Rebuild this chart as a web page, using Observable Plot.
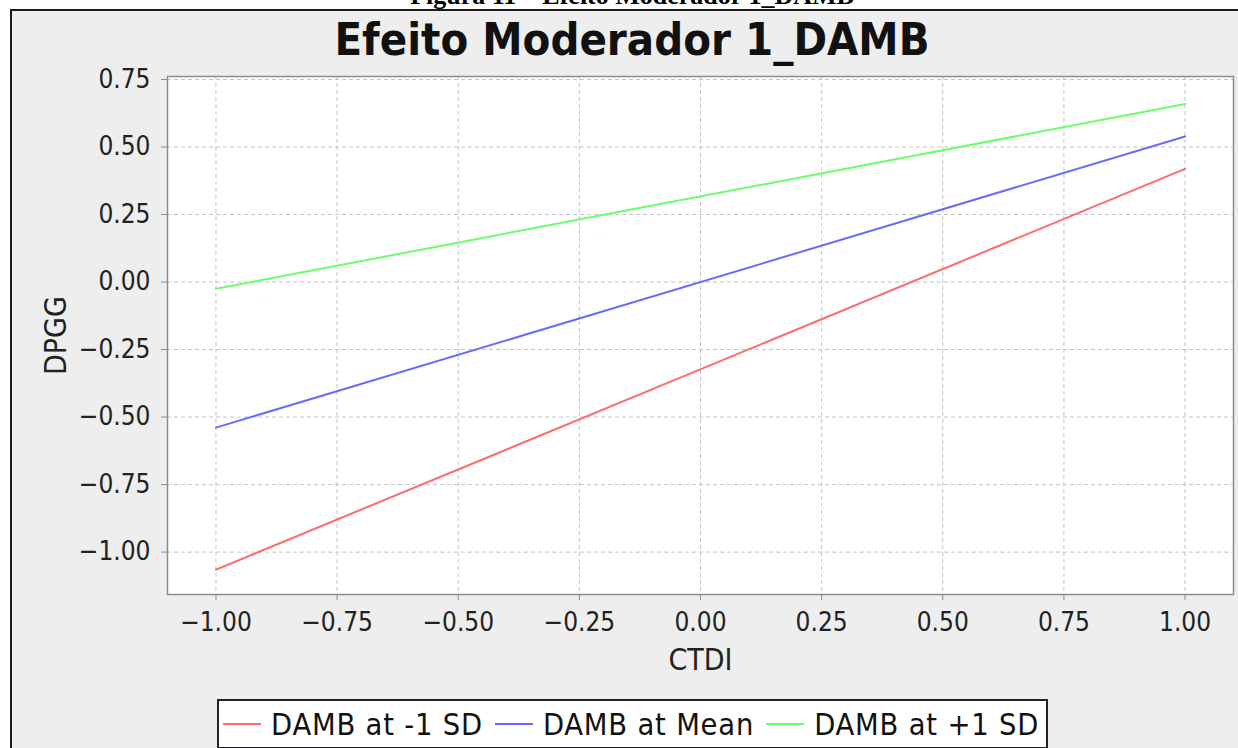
<!DOCTYPE html>
<html>
<head>
<meta charset="utf-8">
<script src="https://cdn.jsdelivr.net/npm/d3@7"></script>
<script src="https://cdn.jsdelivr.net/npm/@observablehq/plot@0.6"></script>
<style>
  html, body { margin: 0; padding: 0; background: #fff; width: 1238px; height: 748px; overflow: hidden; }
  #caption { position: absolute; left: 0; width: 1264px; top: -17px; text-align: center;
    font-family: "Liberation Serif", serif; font-weight: bold; font-size: 26px; line-height: 26px; color: #000; }
  #panel { position: absolute; left: 10px; top: 9px; right: 0; bottom: 0; background: #eeeeee;
    border-top: 2px solid #1a1a1a; border-left: 2px solid #1a1a1a; }
  #title { position: absolute; left: 0; width: 1264px; top: 17px; text-align: center;
    font-family: "DejaVu Sans Condensed", "DejaVu Sans", sans-serif; font-weight: bold; font-size: 45px; line-height: 46px; color: #111; }
  #chart { position: absolute; left: 0; top: 0; }
  #legend { position: absolute; left: 217px; top: 699px; width: 831px; height: 50px; box-sizing: border-box;
    border: 2px solid #222; background: #fff; display: flex; align-items: center; padding-left: 4px; overflow: hidden;
    font-family: "DejaVu Sans Condensed", "DejaVu Sans", sans-serif; font-size: 30.5px; letter-spacing: 0.8px; color: #111; white-space: nowrap; }
  .sw { flex: none; width: 38px; height: 2px; margin-right: 10px; }
  .it { flex: none; margin-right: 12px; }
</style>
</head>
<body>
<div id="caption">Figura 11 – Efeito Moderador 1_DAMB</div>
<div id="panel"></div>
<div id="title">Efeito Moderador 1_DAMB</div>
<div id="chart"></div>
<div id="legend"></div>
<script>
// Data
const ctdi = [-1, 1];
const dambLow = [-1.065, 0.419];   // DAMB at -1 SD
const dambMean = [-0.539, 0.539];  // DAMB at Mean
const dambHigh = [-0.025, 0.659];  // DAMB at +1 SD
const seriesNames = ["DAMB at -1 SD", "DAMB at Mean", "DAMB at +1 SD"];
const seriesColors = ["#ff6a6a", "#6a6aff", "#6aff6a"];
const xTicks = [-1, -0.75, -0.5, -0.25, 0, 0.25, 0.5, 0.75, 1];
const yTicks = [-1, -0.75, -0.5, -0.25, 0, 0.25, 0.5, 0.75];
const xLabel = "CTDI";
const yLabel = "DPGG";

const seriesValues = [dambLow, dambMean, dambHigh];
const rows = [];
seriesNames.forEach((name, i) => {
  ctdi.forEach((x, j) => rows.push({series: name, x, y: seriesValues[i][j]}));
});

const fmt = d3.format(".2f");
const font = "'DejaVu Sans Condensed', 'DejaVu Sans', sans-serif";

const chart = Plot.plot({
  width: 1238,
  height: 680,
  marginLeft: 167,
  marginRight: 5,
  marginTop: 76,
  marginBottom: 86,
  style: {background: "transparent", fontFamily: font, color: "#222", overflow: "visible"},
  x: {domain: [-1.1, 1.1]},
  y: {domain: [-1.157, 0.761]},
  color: {domain: seriesNames, range: seriesColors},
  marks: [
    Plot.frame({fill: "white", stroke: null}),
    Plot.gridX(xTicks, {stroke: "#c4c4c4", strokeOpacity: 1, strokeDasharray: "4,3"}),
    Plot.gridY(yTicks, {stroke: "#c4c4c4", strokeOpacity: 1, strokeDasharray: "4,3"}),
    Plot.line(rows, {x: "x", y: "y", z: "series", stroke: "series", strokeWidth: 2}),
    Plot.frame({stroke: "#8c8c8c", strokeWidth: 1.5}),
    Plot.axisX(xTicks, {tickFormat: fmt, tickSize: 6, tickPadding: 12, fontSize: 26, color: "#222", stroke: "#8c8c8c", label: null}),
    Plot.axisY(yTicks, {tickFormat: fmt, tickSize: 6, tickPadding: 11, fontSize: 26, color: "#222", stroke: "#8c8c8c", label: null}),
    Plot.text([xLabel], {text: d => d, frameAnchor: "bottom", textAnchor: "middle", lineAnchor: "middle", dy: 66, fontSize: 30, fill: "#222"}),
    Plot.text([yLabel], {text: d => d, frameAnchor: "left", textAnchor: "middle", lineAnchor: "middle", dx: -111, rotate: -90, fontSize: 30, fill: "#222"})
  ]
});
document.getElementById("chart").appendChild(chart);

const legend = document.getElementById("legend");
seriesNames.forEach((name, i) => {
  const sw = document.createElement("span");
  sw.className = "sw";
  sw.style.background = seriesColors[i];
  legend.appendChild(sw);
  const t = document.createElement("span");
  t.className = "it";
  t.textContent = name;
  legend.appendChild(t);
});
</script>
</body>
</html>
